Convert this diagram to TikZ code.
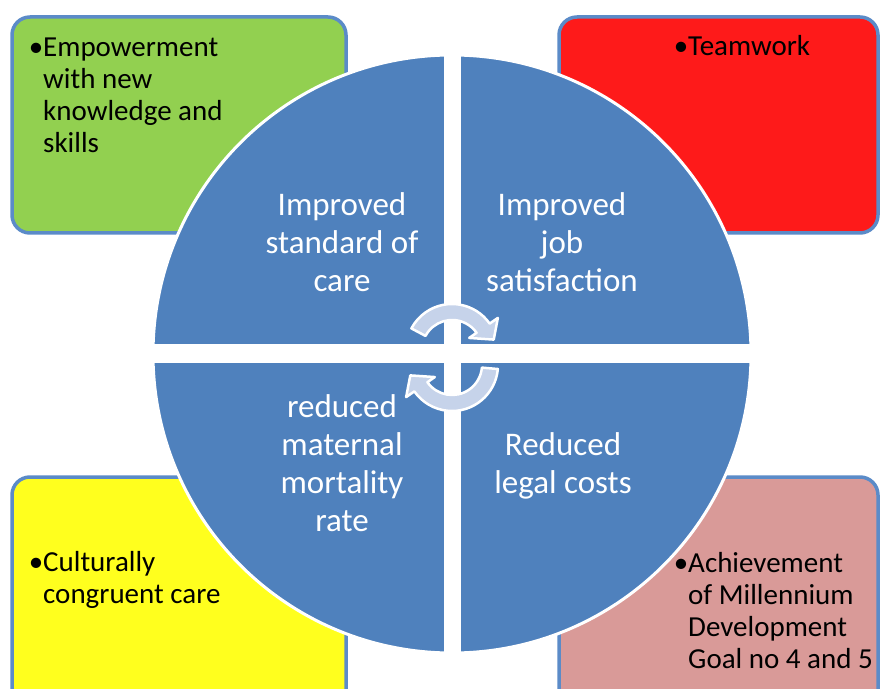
\documentclass[tikz,border=0pt]{standalone}
\usepackage{fontspec}
\setmainfont{Carlito}
\definecolor{boxline}{HTML}{5B8BC8}
\definecolor{quad}{HTML}{4F81BD}
\definecolor{cycfill}{HTML}{C6D3EA}
\definecolor{qgreen}{HTML}{92D050}
\definecolor{qred}{HTML}{FE1A1A}
\definecolor{qyellow}{HTML}{FFFF1E}
\definecolor{qpink}{HTML}{D99A98}
\begin{document}
\begin{tikzpicture}[x=1pt,y=1pt,
	box/.style={draw=boxline,line width=3.5pt,rounded corners=18pt},
	qtext/.style={text=white,align=center,inner sep=0,font=\fontsize{33}{38}\selectfont},
	btext/.style={anchor=north west,align=left,inner sep=0,font=\fontsize{29}{32}\selectfont,execute at begin node=\strut},
	cyc/.style={fill=cycfill,draw=white,line width=2.5pt,line join=round}]
\useasboundingbox (0,0) rectangle (882,688);
\clip (0,0) rectangle (882,688);
\draw[box,fill=qgreen] (12,455) rectangle (346,671);
\draw[box,fill=qred] (559,455) rectangle (878,671);
\draw[box,fill=qyellow] (12,-20) rectangle (346,211);
\draw[box,fill=qpink] (559,-20) rectangle (878,211);
\coordinate (o) at (452,334);
\filldraw[fill=quad,draw=white,line width=3pt] (o) circle (299);
\draw[white,line width=19pt] (o) ++(-299,0) -- ++(598,0);
\draw[white,line width=17pt] (o) ++(0,-299) -- ++(0,598);
\begin{scope}[shift={(452,338)}]
	\filldraw[cyc] (152:30) arc[start angle=152,end angle=35,radius=30] -- (35:21) -- (14:43) -- (35:56) -- (35:46) arc[start angle=35,end angle=152,radius=46] -- cycle;
\end{scope}
\begin{scope}[shift={(452,323)}]
	\filldraw[cyc] (-5:46) arc[start angle=-5,end angle=-145,radius=46] -- (-145:56) -- (-166:43) -- (-145:21) -- (-145:30) arc[start angle=-145,end angle=-5,radius=30] -- cycle;
\end{scope}
\node[qtext] (care) at (342,446) {Improved\\standard of\\care};
\node[qtext] (job) at (562,446) {Improved\\job\\satisfaction};
\node[qtext] (mort) at (342,225) {reduced\\maternal\\mortality\\rate};
\node[qtext] (legal) at (563,222) {Reduced\\legal costs};
\node[btext] (empow) at (43,650) {\llap{•}Empowerment\\with new\\knowledge and\\skills};
\node[btext] (team) at (688,655) {\llap{•}Teamwork};
\node[btext] (cult) at (43,137) {\llap{•}Culturally\\congruent care};
\node[btext] (mdg) at (688,136) {\llap{•}Achievement\\of Millennium\\Development\\Goal no 4 and 5};
\end{tikzpicture}
\end{document}
